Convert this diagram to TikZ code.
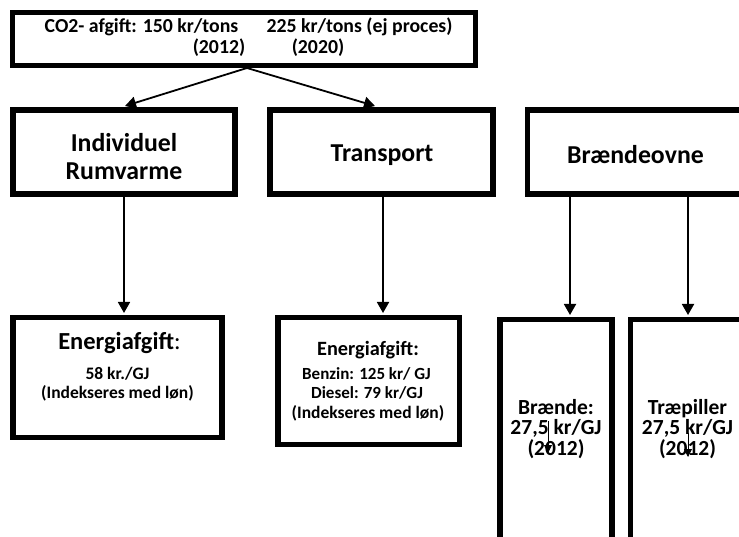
\documentclass[tikz,border=0pt]{standalone}
\usepackage{fontspec}
\setmainfont{Carlito}
\usetikzlibrary{arrows.meta}
\begin{document}
\begin{tikzpicture}[x=1pt,y=-1pt,
  box/.style={draw=black,line width=5.5pt,fill=white,inner sep=0pt,minimum width=#1},
  txt/.style={inner sep=0pt,font=\bfseries,anchor=center},
  conn/.style={line width=1.8pt,-{Triangle[width=12pt,length=11pt]}},
  thin/.style={line width=0.9pt,-{Triangle[width=8pt,length=8pt]}}]
\clip (0,0) rectangle (739,537);
\fill[white] (0,0) rectangle (739,537);
% boxes
\node[box=463pt,minimum height=53pt] (top) at (244,39) {};
\node[box=222pt,minimum height=84pt] (ind) at (124,152) {};
\node[box=223pt,minimum height=84pt] (tra) at (381.5,152) {};
\node[box=240pt,minimum height=84pt] (bra) at (647.5,152) {};
\node[box=209pt,minimum height=119.5pt] (e1) at (117.5,377.5) {};
\node[box=181.5pt,minimum height=126.5pt] (e2) at (368.5,381) {};
\node[box=112pt,minimum height=270pt] (br) at (556,454.5) {};
\node[box=127pt,minimum height=270pt] (tp) at (694,454.5) {};
% texts
\node[txt,font=\bfseries\fontsize{19.8}{23}\selectfont] (t1) at (141.5,27) {CO2- afgift: 150 kr/tons};
\node[txt,font=\bfseries\fontsize{19.8}{23}\selectfont] (t2) at (359.5,27) {225 kr/tons (ej proces)};
\node[txt,font=\bfseries\fontsize{19.8}{23}\selectfont] (t3) at (219,48) {(2012)};
\node[txt,font=\bfseries\fontsize{19.8}{23}\selectfont] (t4) at (318,48) {(2020)};
\node[txt,font=\bfseries\fontsize{25.8}{30}\selectfont] (h1) at (124,143) {Individuel};
\node[txt,font=\bfseries\fontsize{25.8}{30}\selectfont] (h2) at (124,171) {Rumvarme};
\node[txt,font=\bfseries\fontsize{25.8}{30}\selectfont] (h3) at (382,155) {Transport};
\node[txt,font=\bfseries\fontsize{25.8}{30}\selectfont] (h4) at (635.5,155) {Brændeovne};
\node[txt,font=\bfseries\fontsize{24.5}{28}\selectfont] (a1) at (119.5,343) {Energiafgift\mdseries:};
\node[txt,font=\bfseries\fontsize{17.5}{20}\selectfont] (a2) at (117.5,374) {58 kr./GJ};
\node[txt,font=\bfseries\fontsize{17.5}{20}\selectfont] (a3) at (117.5,393) {(Indekseres med løn)};
\node[txt,font=\bfseries\fontsize{20.3}{23}\selectfont] (b1) at (368,350) {Energiafgift:};
\node[txt,font=\bfseries\fontsize{17}{20}\selectfont] (b2) at (366.5,374) {Benzin: 125 kr/ GJ};
\node[txt,font=\bfseries\fontsize{17}{20}\selectfont] (b3) at (367,393) {Diesel: 79 kr/GJ};
\node[txt,font=\bfseries\fontsize{17.5}{20}\selectfont] (b4) at (368,413) {(Indekseres med løn)};
\node[txt,align=center,font=\bfseries\fontsize{21.5}{20.5}\selectfont] (c1) at (556,429) {Brænde:\\27,5 kr/GJ\\(2012)};
\node[txt,align=center,font=\bfseries\fontsize{21.5}{20.5}\selectfont] (d1) at (687.5,429) {Træpiller\\27,5 kr/GJ\\(2012)};
% connectors
\coordinate (s0) at (247,68);
\draw[conn] (s0) -- (125,106);
\draw[conn] (s0) -- (375,106);
\draw[conn] (124,197) -- (124,313);
\draw[conn] (383,197) -- (383,313);
\draw[conn] (570,197) -- (570,315);
\draw[conn] (688,197) -- (688,315);
\coordinate (u1) at (548,421);
\coordinate (v1) at (548,453);
\coordinate (u2) at (688,433);
\coordinate (v2) at (688,457);
\draw[thin] (u1) -- (v1);
\draw[thin] (u2) -- (v2);
\end{tikzpicture}
\end{document}
